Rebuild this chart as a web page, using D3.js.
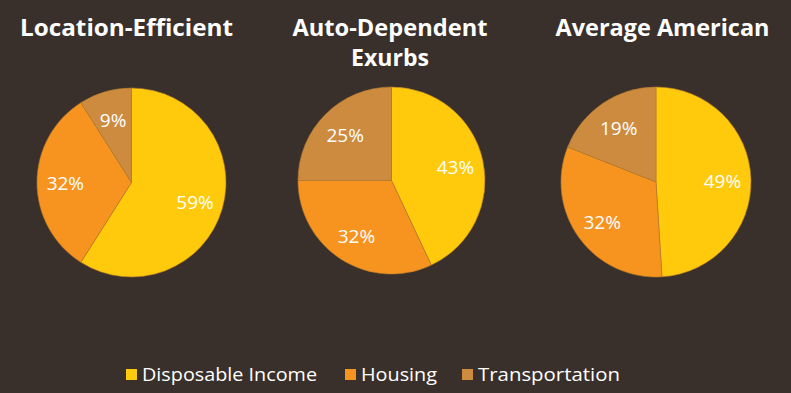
<!DOCTYPE html>
<html lang="en">
<head>
  <meta charset="utf-8">
  <title>Household budget shares</title>
  <script src="https://d3js.org/d3.v7.min.js"></script>
  <style>
    html, body { margin: 0; padding: 0; background: #3a302b; }
    svg { display: block; }
    text { font-family: "Open Sans", "DejaVu Sans", sans-serif; fill: #ffffff; }
  </style>
</head>
<body>
<svg width="791" height="393"></svg>

<script>
  // data
  var categories = ["Disposable Income", "Housing", "Transportation"];
  var colors = ["#ffc90c", "#f7931f", "#cd8b40"];
  var titles = [["Location-Efficient"], ["Auto-Dependent", "Exurbs"], ["Average American"]];
  var locationEfficient = [59, 32, 9];
  var autoDependent = [43, 32, 25];
  var averageAmerican = [49, 32, 19];
  var series = [locationEfficient, autoDependent, averageAmerican];

  var svg = d3.select("svg"),
      width = +svg.attr("width"),
      height = +svg.attr("height");

  svg.append("rect").attr("width", width).attr("height", height).attr("fill", "#3a302b");

  var color = d3.scaleOrdinal().domain(categories).range(colors);

  // pie centres / title centres
  var centers = [{x: 131.5, y: 182.5, r: 94.5, tx: 126.5, tw: [213]},
                 {x: 391.5, y: 180.5, r: 93.5, tx: 390, tw: [195, 78]},
                 {x: 656, y: 182, r: 95, tx: 662.5, tw: [214]}];

  var pie = d3.pie().sort(null).value(function(d) { return d.value; });

  series.forEach(function(vals, i) {
    var c = centers[i];
    var data = vals.map(function(v, j) { return {cat: categories[j], value: v}; });
    var arc = d3.arc().innerRadius(0).outerRadius(c.r);
    var labelArc = d3.arc().innerRadius(c.r * 0.7).outerRadius(c.r * 0.7);

    var g = svg.append("g").attr("transform", "translate(" + c.x + "," + c.y + ")");

    g.selectAll(".slice")
        .data(pie(data))
        .enter().append("path")
        .attr("class", "slice")
        .attr("d", arc)
        .attr("fill", function(d) { return color(d.data.cat); })
        .attr("stroke", "#b37a2c")
        .attr("stroke-width", 0.6);

    g.selectAll(".lbl")
        .data(pie(data))
        .enter().append("text")
        .attr("class", "lbl")
        .attr("transform", function(d) { return "translate(" + labelArc.centroid(d) + ")"; })
        .attr("dy", "0.4em")
        .attr("text-anchor", "middle")
        .style("font-size", "19px")
        .text(function(d) { return d.data.value + "%"; });

    titles[i].forEach(function(line, k) {
      svg.append("text")
          .attr("x", c.tx)
          .attr("y", 36 + k * 30)
          .attr("text-anchor", "middle")
          .attr("textLength", c.tw[k])
          .attr("lengthAdjust", "spacingAndGlyphs")
          .style("font-size", "23px")
          .style("font-weight", "bold")
          .text(line);
    });
  });

  // legend
  var legendX = [126, 345, 462];
  var legendW = [175, 76, 142];
  var legend = svg.selectAll(".legend")
      .data(categories)
      .enter().append("g")
      .attr("class", "legend")
      .attr("transform", function(d, i) { return "translate(" + legendX[i] + ",369)"; });

  legend.append("rect")
      .attr("width", 11)
      .attr("height", 11)
      .attr("fill", function(d) { return color(d); });

  legend.append("text")
      .attr("x", 16)
      .attr("y", 12)
      .attr("textLength", function(d, i) { return legendW[i]; })
      .attr("lengthAdjust", "spacingAndGlyphs")
      .style("font-size", "19px")
      .text(function(d) { return d; });
</script>
</body>
</html>
